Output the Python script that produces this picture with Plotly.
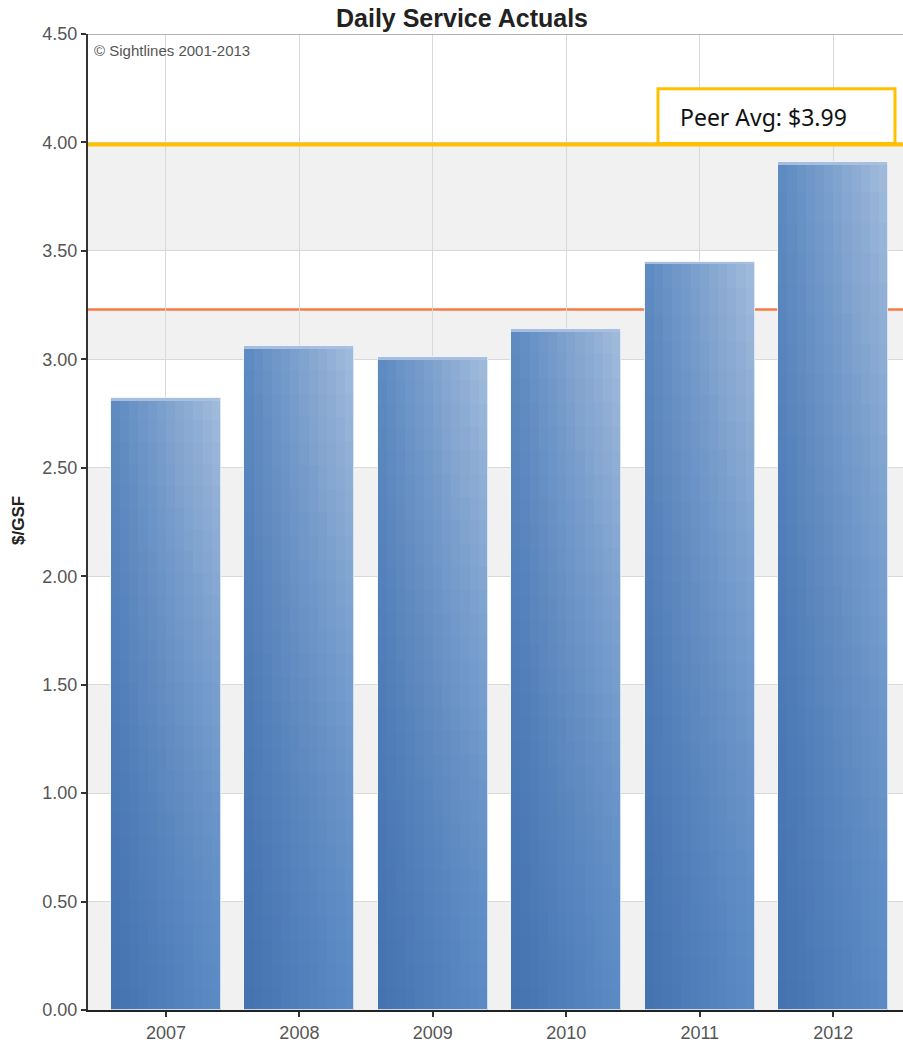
import plotly.graph_objects as go

# Daily service cost per gross square foot, by fiscal year
years = ["2007", "2008", "2009", "2010", "2011", "2012"]
actuals = [2.82, 3.06, 3.01, 3.14, 3.45, 3.91]

target_value = 3.23      # orange reference line
peer_avg = 3.99          # peer average line and callout
peer_label = "Peer Avg: $3.99"

y_ticks = [0.0, 0.5, 1.0, 1.5, 2.0, 2.5, 3.0, 3.5, 4.0, 4.5]
shaded_bands = [(0.0, 0.5), (1.0, 1.5), (2.0, 2.5), (3.0, target_value), (3.5, 4.0)]

title_text = "Daily Service Actuals"
y_title = "$/GSF"
credit_text = "© Sightlines 2001-2013"

# ---- bar shading: bilinear blend between four corner colours ----
TL = (92, 137, 193)
TR = (163, 188, 220)
BL = (68, 114, 175)
BR = (92, 139, 197)


def blend(fx, fy):
    top = [TL[k] + (TR[k] - TL[k]) * fx for k in range(3)]
    bot = [BL[k] + (BR[k] - BL[k]) * fx for k in range(3)]
    c = [bot[k] + (top[k] - bot[k]) * (fy ** 1.3) for k in range(3)]
    return "rgb(%d,%d,%d)" % tuple(int(round(v)) for v in c)


BAR_W = 0.824
N_COLS = 12
N_ROWS = 28
col_w = BAR_W / N_COLS

fig = go.Figure()

for j in range(N_ROWS):
    fy = (j + 0.5) / N_ROWS
    last_row = j == N_ROWS - 1
    seg = [v / N_ROWS for v in actuals]
    heights = seg if last_row else [s * 1.4 for s in seg]
    bases = [v * j / N_ROWS for v in actuals]
    for i in range(N_COLS):
        fx = (i + 0.5) / N_COLS
        last_col = i == N_COLS - 1
        fig.add_trace(go.Bar(
            x=years, y=heights, base=bases,
            width=col_w if last_col else col_w * 1.35,
            offset=-BAR_W / 2 + i * col_w,
            marker=dict(color=blend(fx, fy), line=dict(width=0)),
            hoverinfo="skip", showlegend=False,
        ))

# light cap along the top of each bar
cap = 0.012
fig.add_trace(go.Bar(
    x=years, y=[cap] * len(actuals), base=[v - cap for v in actuals],
    width=BAR_W, offset=-BAR_W / 2,
    marker=dict(color="rgba(170,192,224,0.95)", line=dict(width=0)),
    hoverinfo="skip", showlegend=False,
))

# faint outline
fig.add_trace(go.Bar(
    x=years, y=actuals, width=BAR_W, offset=-BAR_W / 2,
    marker=dict(color="rgba(0,0,0,0)", line=dict(color="rgba(235,242,250,0.8)", width=1)),
    hovertemplate="%{x}: $%{y:.2f}<extra></extra>", showlegend=False,
))

shapes = []
for lo, hi in shaded_bands:
    shapes.append(dict(type="rect", xref="paper", x0=0, x1=1, yref="y", y0=lo, y1=hi,
                       fillcolor="#f1f1f1", line=dict(width=0), layer="below"))

# top border of the plotting area
shapes.append(dict(type="line", xref="paper", x0=0, x1=1, yref="y", y0=4.5, y1=4.5,
                   line=dict(color="#9a9a9a", width=1.5), layer="above"))

# target line (sits behind the bars)
shapes.append(dict(type="line", xref="paper", x0=0, x1=1, yref="y",
                   y0=target_value, y1=target_value,
                   line=dict(color="#f47b45", width=2.5), layer="between"))

# peer average line
shapes.append(dict(type="line", xref="paper", x0=0, x1=1, yref="y",
                   y0=peer_avg, y1=peer_avg,
                   line=dict(color="#ffc000", width=4), layer="above"))

# peer average callout box
shapes.append(dict(type="rect", xref="paper", yref="paper",
                   x0=(658 - 88) / 815, x1=(895 - 88) / 815,
                   y0=1 - (144 - 34) / 980, y1=1 - (89 - 34) / 980,
                   fillcolor="white", line=dict(color="#ffc000", width=3), layer="above"))

annotations = [
    dict(text=peer_label, xref="paper", yref="paper",
         x=(678 - 88) / 815, y=1 - (117 - 34) / 980, xanchor="left", yanchor="middle",
         showarrow=False, font=dict(family="Noto Sans", size=23, color="#111111")),
    dict(text=credit_text, xref="paper", yref="paper",
         x=(92 - 88) / 815, y=1 - (40 - 34) / 980, xanchor="left", yanchor="top",
         showarrow=False, font=dict(family="Liberation Sans", size=15, color="#555555")),
    dict(text="<b>" + y_title + "</b>", xref="paper", yref="paper",
         x=(18 - 88) / 815, y=1 - (523 - 34) / 980, xanchor="center", yanchor="middle",
         textangle=-90, showarrow=False,
         font=dict(family="Liberation Sans", size=17, color="#222222")),
]

fig.update_layout(
    width=903, height=1043,
    margin=dict(l=88, r=0, t=34, b=29),
    paper_bgcolor="white", plot_bgcolor="white",
    barmode="overlay", bargap=0,
    title=dict(text="<b>" + title_text + "</b>", xref="container", yref="container",
               x=462 / 903, y=1 - 18 / 1043, xanchor="center", yanchor="middle",
               font=dict(family="Liberation Sans", size=25, color="#222222")),
    shapes=shapes, annotations=annotations,
    showlegend=False,
)

fig.update_xaxes(
    type="category", range=[-0.584, 5.523],
    showgrid=True, gridcolor="#d9d9d9", gridwidth=1,
    showline=True, linecolor="#222222", linewidth=2,
    ticks="outside", ticklen=5, tickcolor="#333333", tickwidth=1.5,
    tickfont=dict(family="Liberation Sans", size=18, color="#555555"),
    fixedrange=True,
)
fig.update_yaxes(
    range=[0, 4.5], tickvals=y_ticks, tickformat=".2f",
    showgrid=True, gridcolor="#d9d9d9", gridwidth=1, zeroline=False,
    showline=True, linecolor="#333333", linewidth=2,
    ticks="outside", ticklen=5, tickcolor="#333333", tickwidth=1.5,
    tickfont=dict(family="Liberation Sans", size=18, color="#555555"),
    fixedrange=True,
)

fig.write_html("out.html")
